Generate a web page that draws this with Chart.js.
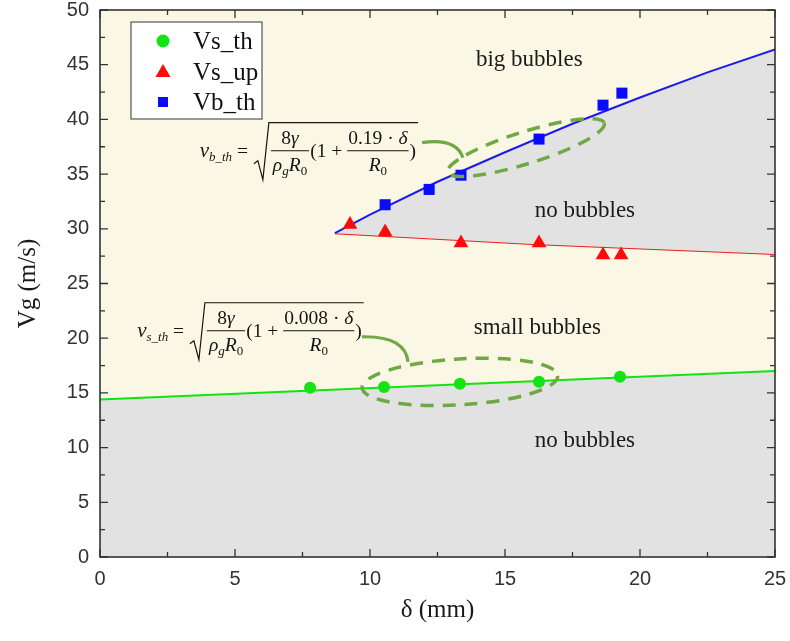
<!DOCTYPE html>
<html><head><meta charset="utf-8">
<script src="https://cdn.jsdelivr.net/npm/chart.js@4.4.1/dist/chart.umd.min.js"></script>
<style>html,body{margin:0;padding:0;background:#fff;}#wrap{position:relative;width:790px;height:641px;}</style>
</head><body><div id="wrap"><canvas id="c" width="790" height="641"></canvas></div>
<script>
// ---- data ----
const seriesNames = ['Vs_th', 'Vs_up', 'Vb_th'];
const vsThX = [7.78, 10.52, 13.33, 16.26, 19.26];
const vsThY = [15.46, 15.55, 15.83, 16.01, 16.47];
const vsUpX = [9.26, 10.56, 13.37, 16.26, 18.63, 19.30];
const vsUpY = [30.4, 29.7, 28.7, 28.7, 27.6, 27.6];
const vbThX = [10.56, 12.19, 13.37, 16.26, 18.63, 19.33];
const vbThY = [32.2, 33.6, 34.9, 38.2, 41.3, 42.4];
const fitSX = [0, 25];
const fitSY = [14.4, 17.0];
const fitBX = [8.7, 10, 12.5, 15, 17.5, 20, 22.5, 25];
const fitBY = [29.6, 31.3, 34.3, 37.0, 39.6, 42.0, 44.3, 46.4];
const fitUX = [8.7, 16, 25];
const fitUY = [29.6, 28.6, 27.7];
const xTicks = [0, 5, 10, 15, 20, 25];
const yTicks = [0, 5, 10, 15, 20, 25, 30, 35, 40, 45, 50];
const regionLabels = ['big bubbles', 'no bubbles', 'small bubbles', 'no bubbles'];
const formulaSubs = ['b_th', 's_th'];
const formulaCoefs = ['0.19', '0.008'];

const pts = (xs, ys) => xs.map((x, i) => ({x, y: ys[i]}));

// ---- annotation placement (data units) and styles ----
const regionPos = [[15.9, 45.4], [17.96, 31.6], [16.2, 20.95], [17.96, 10.6]];
const formulaPos = [[5.81, 39.7], [3.44, 23.24]];
const ellipses = [
  {c: [15.78, 37.42], rx: 82, ry: 16, rot: -17.4},
  {c: [13.33, 16.01], rx: 98, ry: 23, rot: -3.5}
];
const connectors = [
  [[11.93, 37.88], [13.19, 38.33], [13.44, 36.5]],
  [[9.70, 20.13], [11.30, 20.22], [11.41, 17.84]]
];
const GREEN = '#12e312', RED = '#ff0a0a', BLUE = '#0a0aff';
const BG = '#faf8e4', GRAY = '#e2e2e2', ANN = 'rgb(112,168,70)';
const SERIF = '"Liberation Serif", "Times New Roman", serif';

function px(ch, x, y) { return [ch.scales.x.getPixelForValue(x), ch.scales.y.getPixelForValue(y)]; }

function partsW(ctx, parts) { let w = 0; for (const p of parts) { ctx.font = p[1]; w += ctx.measureText(p[0]).width; } return w; }
function drawParts(ctx, parts, x, base) { for (const p of parts) { ctx.font = p[1]; ctx.fillText(p[0], x, base + (p[2] || 0)); x += ctx.measureText(p[0]).width; } return x; }

function drawFormula(ctx, S, Y, sub, coef) {
  const M = 19.5, s = 13;
  const it = z => `italic ${z}px ${SERIF}`, rm = z => `${z}px ${SERIF}`;
  ctx.save();
  ctx.fillStyle = '#151515'; ctx.strokeStyle = '#151515';
  ctx.textAlign = 'left'; ctx.textBaseline = 'alphabetic';
  const lhs = [['v', it(21)], [sub, it(13), 4], [' = ', rm(M)]];
  drawParts(ctx, lhs, S - 4 - partsW(ctx, lhs), Y + 34);
  const n1 = [['8', rm(M)], ['γ', it(M)]];
  const d1 = [['ρ', it(M)], ['g', it(s), 4], ['R', it(M)], ['0', rm(s), 4]];
  const n2 = [[coef, rm(M)], [' · ', rm(M)], ['δ', it(M)]];
  const d2 = [['R', it(M)], ['0', rm(s), 4]];
  let x = S + 14;
  const fw1 = Math.max(partsW(ctx, n1), partsW(ctx, d1)) + 4;
  drawParts(ctx, n1, x + (fw1 - partsW(ctx, n1)) / 2, Y + 21);
  drawParts(ctx, d1, x + (fw1 - partsW(ctx, d1)) / 2, Y + 48);
  ctx.lineWidth = 1.1;
  ctx.beginPath(); ctx.moveTo(x, Y + 28); ctx.lineTo(x + fw1, Y + 28); ctx.stroke();
  x += fw1 + 1;
  x = drawParts(ctx, [['(1 + ', rm(M)]], x, Y + 34);
  const fw2 = Math.max(partsW(ctx, n2), partsW(ctx, d2)) + 2;
  drawParts(ctx, n2, x + (fw2 - partsW(ctx, n2)) / 2, Y + 21);
  drawParts(ctx, d2, x + (fw2 - partsW(ctx, d2)) / 2, Y + 48);
  ctx.beginPath(); ctx.moveTo(x, Y + 28); ctx.lineTo(x + fw2, Y + 28); ctx.stroke();
  x += fw2 + 1;
  x = drawParts(ctx, [[')', rm(M)]], x, Y + 34);
  const E = x + 2;
  ctx.lineWidth = 1.2;
  ctx.beginPath();
  ctx.moveTo(S - 3, Y + 41); ctx.lineTo(S + 1, Y + 38); ctx.lineTo(S + 6, Y + 57);
  ctx.lineTo(S + 12, Y); ctx.lineTo(E, Y);
  ctx.stroke();
  ctx.restore();
}

const decor = {
  id: 'decor',
  beforeDraw(ch) {
    const a = ch.chartArea, ctx = ch.ctx;
    ctx.save(); ctx.fillStyle = BG; ctx.fillRect(a.left, a.top, a.right - a.left, a.bottom - a.top); ctx.restore();
  },
  afterDatasetsDraw(ch) {
    const a = ch.chartArea, ctx = ch.ctx;
    ctx.save();
    ctx.strokeStyle = '#333'; ctx.lineWidth = 1.6;
    ctx.strokeRect(a.left, a.top, a.right - a.left, a.bottom - a.top);
    ctx.lineWidth = 1.3;
    const xs = ch.scales.x, ys = ch.scales.y;
    const tick = (vals, isX, len) => {
      for (const v of vals) {
        ctx.beginPath();
        if (isX) { const p = xs.getPixelForValue(v);
          ctx.moveTo(p, a.bottom); ctx.lineTo(p, a.bottom - len);
          ctx.moveTo(p, a.top); ctx.lineTo(p, a.top + len);
        } else { const p = ys.getPixelForValue(v);
          ctx.moveTo(a.left, p); ctx.lineTo(a.left + len, p);
          ctx.moveTo(a.right, p); ctx.lineTo(a.right - len, p);
        }
        ctx.stroke();
      }
    };
    const mids = t => t.slice(1).map((v, i) => (v + t[i]) / 2);
    tick(xTicks, true, 8); tick(mids(xTicks), true, 5);
    tick(yTicks, false, 8); tick(mids(yTicks), false, 5);
    ctx.fillStyle = '#1a1a1a'; ctx.font = `23px ${SERIF}`;
    ctx.textAlign = 'center'; ctx.textBaseline = 'middle';
    regionLabels.forEach((t, i) => { const [x, y] = px(ch, ...regionPos[i]); ctx.fillText(t, x, y); });
    ctx.strokeStyle = ANN; ctx.lineWidth = 3.5; ctx.setLineDash([13, 9]);
    for (const e of ellipses) {
      const [cx, cy] = px(ch, ...e.c);
      ctx.beginPath(); ctx.ellipse(cx, cy, e.rx, e.ry, e.rot * Math.PI / 180, 0, Math.PI * 2); ctx.stroke();
    }
    ctx.setLineDash([]); ctx.lineWidth = 3.2;
    for (const c of connectors) {
      const p0 = px(ch, ...c[0]), p1 = px(ch, ...c[1]), p2 = px(ch, ...c[2]);
      ctx.beginPath(); ctx.moveTo(...p0); ctx.quadraticCurveTo(...p1, ...p2); ctx.stroke();
    }
    formulaPos.forEach((f, i) => { const [S, Y] = px(ch, ...f); drawFormula(ctx, S, Y, formulaSubs[i], formulaCoefs[i]); });
    const L = 131, T = 22, R = 262, B = 119;
    ctx.fillStyle = '#ffffff'; ctx.fillRect(L, T, R - L, B - T);
    ctx.strokeStyle = '#555'; ctx.lineWidth = 1.2; ctx.strokeRect(L, T, R - L, B - T);
    const rows = [41, 72, 102], mx = 163;
    ctx.fillStyle = GREEN; ctx.beginPath(); ctx.arc(mx, rows[0], 6.5, 0, Math.PI * 2); ctx.fill();
    ctx.fillStyle = RED; ctx.beginPath();
    ctx.moveTo(mx, rows[1] - 8); ctx.lineTo(mx + 7.5, rows[1] + 5); ctx.lineTo(mx - 7.5, rows[1] + 5); ctx.closePath(); ctx.fill();
    ctx.fillStyle = BLUE; ctx.fillRect(mx - 5, rows[2] - 5, 10, 10);
    ctx.fillStyle = '#111'; ctx.font = `25px ${SERIF}`; ctx.textAlign = 'left'; ctx.textBaseline = 'middle';
    seriesNames.forEach((n, i) => ctx.fillText(n, 193, rows[i] + 1));
    ctx.restore();
  }
};

Chart.defaults.font.family = '"Liberation Sans", Arial, sans-serif';
new Chart(document.getElementById('c'), {
  type: 'scatter',
  data: {
    datasets: [
      {label: seriesNames[0], data: pts(vsThX, vsThY), pointStyle: 'circle', pointRadius: 6, backgroundColor: GREEN, borderWidth: 0},
      {label: seriesNames[1], data: pts(vsUpX, vsUpY), pointStyle: 'triangle', pointRadius: 8.5, backgroundColor: RED, borderWidth: 0},
      {label: seriesNames[2], data: pts(vbThX, vbThY), pointStyle: 'rect', pointRadius: 7.8, backgroundColor: BLUE, borderWidth: 0},
      {type: 'line', label: 'fitS', data: pts(fitSX, fitSY), borderColor: GREEN, borderWidth: 2, pointRadius: 0, fill: 'origin', backgroundColor: GRAY, tension: 0},
      {type: 'line', label: 'fitB', data: pts(fitBX, fitBY), borderColor: '#1c1ce6', borderWidth: 2, pointRadius: 0, fill: 5, backgroundColor: GRAY, tension: 0},
      {type: 'line', label: 'fitU', data: pts(fitUX, fitUY), borderColor: '#ee1c1c', borderWidth: 2, pointRadius: 0, fill: false, tension: 0}
    ]
  },
  options: {
    responsive: false, animation: false, devicePixelRatio: 1,
    layout: {padding: {top: 10, right: 15, left: 0, bottom: 0}},
    plugins: {legend: {display: false}, tooltip: {enabled: false}},
    scales: {
      x: {
        type: 'linear', min: 0, max: 25,
        afterBuildTicks: s => { s.ticks = xTicks.map(v => ({value: v})); },
        afterFit: s => { s.height = 84; s.paddingLeft = 0; s.paddingRight = 0; },
        ticks: {color: '#333', font: {size: 20}, padding: 10},
        grid: {display: false, drawTicks: false},
        border: {display: false},
        title: {display: true, text: 'δ (mm)', color: '#1a1a1a', font: {family: SERIF, size: 25}, padding: {top: 0, bottom: 16}}
      },
      y: {
        type: 'linear', min: 0, max: 50,
        afterBuildTicks: s => { s.ticks = yTicks.map(v => ({value: v})); },
        afterFit: s => { s.width = 100; s.paddingTop = 0; s.paddingBottom = 0; },
        ticks: {color: '#333', font: {size: 20}, padding: 11},
        grid: {display: false, drawTicks: false},
        border: {display: false},
        title: {display: true, text: 'Vg (m/s)', color: '#1a1a1a', font: {family: SERIF, size: 25}, padding: {top: 13, bottom: 0}}
      }
    }
  },
  plugins: [decor]
});
</script></body></html>
